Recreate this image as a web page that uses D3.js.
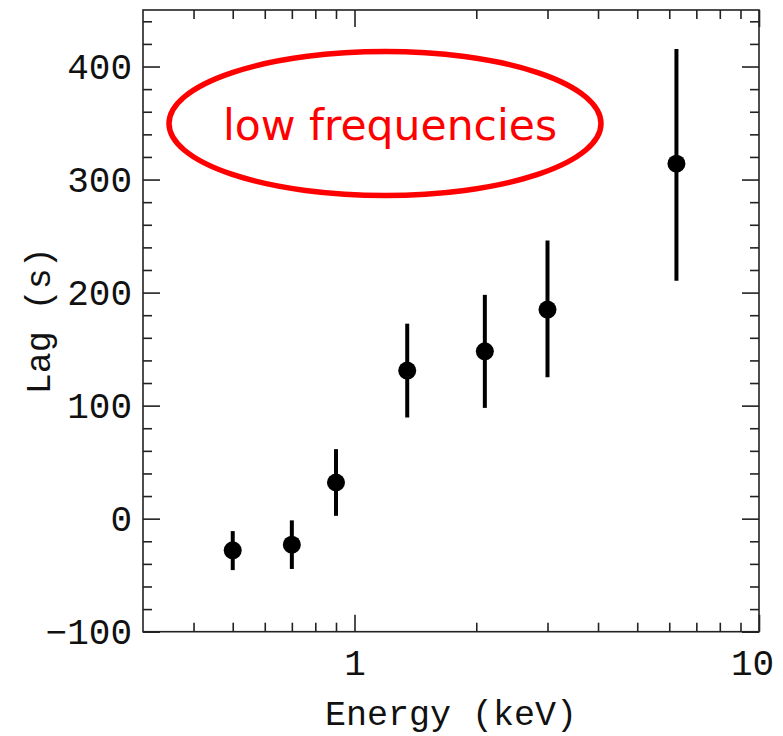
<!DOCTYPE html>
<html>
<head>
<meta charset="utf-8">
<script src="https://cdn.jsdelivr.net/npm/d3@7"></script>
<style>
  html, body { margin: 0; padding: 0; background: #fff; }
  svg { display: block; }
  .axis path, .axis line { stroke: #222; stroke-width: 1.6; }
  .axis text { font-family: "Liberation Mono", "DejaVu Sans Mono", monospace; font-size: 36px; fill: #111; }
</style>
</head>
<body>
<svg id="chart" width="783" height="736"></svg>
<script>
// ---- data ----
const energy  = [0.5, 0.7, 0.9, 1.35, 2.1, 3.0, 6.25];
const lag     = [-28, -23, 32, 131, 148, 185, 314];
const errLow  = [-45.5, -44.5, 2.5, 89.5, 98, 125, 210.5];
const errHigh = [-11, -1.5, 61.5, 172.5, 198, 246, 415.5];

const xMajorTicks = [1, 10];
const xMinorTicks = [0.4, 0.5, 0.6, 0.7, 0.8, 0.9, 2, 3, 4, 5, 6, 7, 8, 9];
const yMajorTicks = [-100, 0, 100, 200, 300, 400];
const yMinorTicks = [-80, -60, -40, -20, 20, 40, 60, 80, 120, 140, 160, 180, 220, 240, 260, 280, 320, 340, 360, 380, 420, 440];

const xLabel = "Energy (keV)";
const yLabel = "Lag (s)";
const annotation = "low frequencies";

// ---- layout ----
const svg = d3.select("#chart");
const pLeft = 143, pRight = 759, pTop = 10, pBottom = 631.7;

const x = d3.scaleLog().domain([0.3, 10]).range([pLeft, pRight]);
const y = d3.scaleLinear().domain([-100, 450]).range([pBottom, pTop]);

const majorLen = 17, minorLen = 9;

// frame
svg.append("rect")
  .attr("x", pLeft).attr("y", pTop)
  .attr("width", pRight - pLeft).attr("height", pBottom - pTop)
  .attr("fill", "none").attr("stroke", "#222").attr("stroke-width", 1.6);

function addAxis(axisFn, scale, ticks, len, transform, labels, cls) {
  const a = axisFn(scale).tickValues(ticks).tickSizeInner(-len).tickSizeOuter(0);
  if (!labels) a.tickFormat("");
  else a.tickFormat(d3.format("d")).tickPadding(0);
  const g = svg.append("g").attr("class", "axis " + (cls || "")).attr("transform", transform).call(a);
  g.select(".domain").remove();
  return g;
}

// bottom
const gxb = addAxis(d3.axisBottom, x, xMajorTicks, majorLen, `translate(0,${pBottom})`, true, "xb");
gxb.selectAll("text").attr("y", 43).attr("dy", 0);
gxb.selectAll(".tick").filter(d => d === 10).select("text").attr("dx", -7);
addAxis(d3.axisBottom, x, xMinorTicks, minorLen, `translate(0,${pBottom})`, false);
// top
addAxis(d3.axisTop, x, xMajorTicks, majorLen, `translate(0,${pTop})`, false);
addAxis(d3.axisTop, x, xMinorTicks, minorLen, `translate(0,${pTop})`, false);
// left
const gyl = addAxis(d3.axisLeft, y, yMajorTicks, majorLen, `translate(${pLeft},0)`, true, "yl");
gyl.selectAll("text").attr("x", -11).attr("dy", "0.34em");
addAxis(d3.axisLeft, y, yMinorTicks, minorLen, `translate(${pLeft},0)`, false);
// right
addAxis(d3.axisRight, y, yMajorTicks, majorLen, `translate(${pRight},0)`, false);
addAxis(d3.axisRight, y, yMinorTicks, minorLen, `translate(${pRight},0)`, false);

// axis titles
svg.append("text")
  .attr("x", (pLeft + pRight) / 2).attr("y", 725)
  .attr("text-anchor", "middle")
  .attr("font-family", '"Liberation Mono", "DejaVu Sans Mono", monospace')
  .attr("font-size", 35).attr("fill", "#111")
  .text(xLabel);

svg.append("text")
  .attr("transform", `translate(50,${(pTop + pBottom) / 2}) rotate(-90)`)
  .attr("text-anchor", "middle")
  .attr("font-family", '"Liberation Mono", "DejaVu Sans Mono", monospace')
  .attr("font-size", 35).attr("fill", "#111")
  .text(yLabel);

// data
const pts = energy.map((e, i) => ({ e, v: lag[i], lo: errLow[i], hi: errHigh[i] }));
svg.append("g").selectAll("line").data(pts).join("line")
  .attr("x1", d => x(d.e)).attr("x2", d => x(d.e))
  .attr("y1", d => y(d.lo)).attr("y2", d => y(d.hi))
  .attr("stroke", "#000").attr("stroke-width", 4);
svg.append("g").selectAll("circle").data(pts).join("circle")
  .attr("cx", d => x(d.e)).attr("cy", d => y(d.v))
  .attr("r", 9).attr("fill", "#000");

// annotation
svg.append("ellipse")
  .attr("cx", 385).attr("cy", 123.5).attr("rx", 216).attr("ry", 72)
  .attr("fill", "none").attr("stroke", "#f00").attr("stroke-width", 5.5);
svg.append("text")
  .attr("x", 390).attr("y", 140)
  .attr("text-anchor", "middle")
  .attr("font-family", '"DejaVu Sans", sans-serif')
  .attr("font-size", 42.5).attr("fill", "#f00")
  .text(annotation);
</script>
</body>
</html>
